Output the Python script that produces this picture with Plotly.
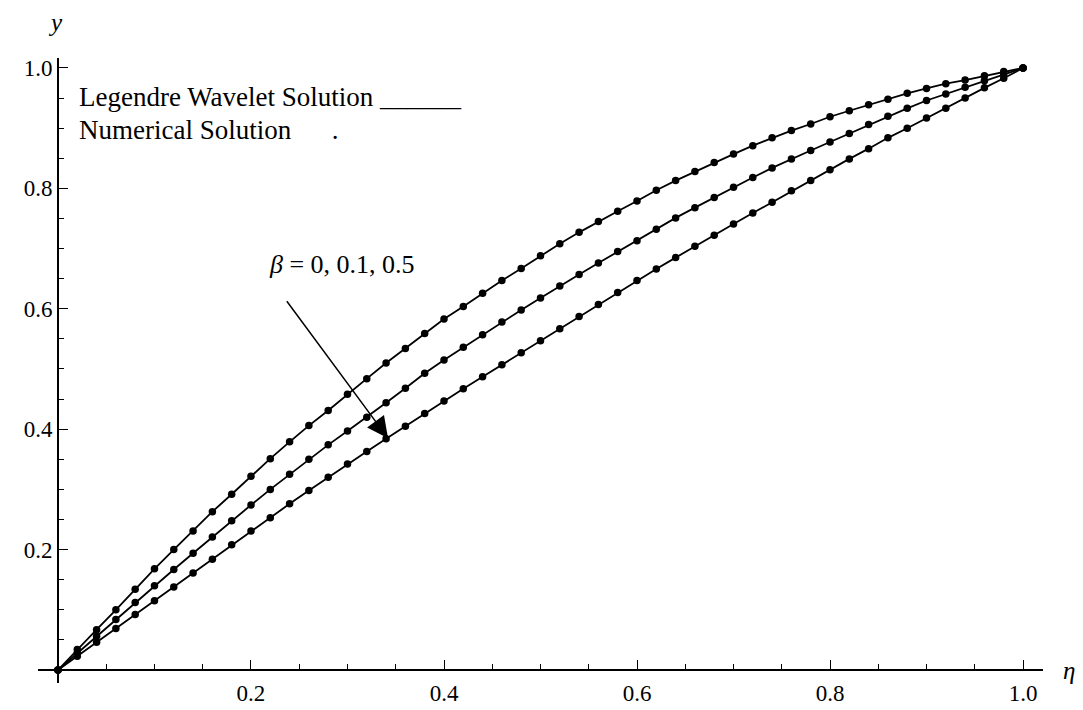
import plotly.graph_objects as go

eta = [round(0.02 * i, 2) for i in range(51)]

y_beta0 = [0.000, 0.034, 0.067, 0.100, 0.134, 0.168, 0.200, 0.231, 0.263, 0.292,
           0.322, 0.351, 0.379, 0.406, 0.431, 0.458, 0.484, 0.510, 0.534, 0.559,
           0.583, 0.604, 0.626, 0.647, 0.667, 0.688, 0.708, 0.727, 0.745, 0.762,
           0.779, 0.797, 0.813, 0.828, 0.843, 0.857, 0.871, 0.884, 0.896, 0.907,
           0.919, 0.929, 0.939, 0.948, 0.958, 0.966, 0.974, 0.980, 0.987, 0.994,
           1.000]

y_beta01 = [0.000, 0.028, 0.056, 0.084, 0.112, 0.140, 0.167, 0.194, 0.221, 0.248,
            0.274, 0.300, 0.325, 0.350, 0.374, 0.397, 0.420, 0.444, 0.468, 0.493,
            0.515, 0.536, 0.557, 0.578, 0.598, 0.618, 0.638, 0.657, 0.676, 0.695,
            0.713, 0.732, 0.751, 0.768, 0.785, 0.802, 0.818, 0.834, 0.849, 0.863,
            0.877, 0.891, 0.906, 0.920, 0.933, 0.946, 0.957, 0.968, 0.979, 0.990,
            1.000]

y_beta05 = [0.000, 0.023, 0.046, 0.069, 0.092, 0.115, 0.138, 0.161, 0.184, 0.208,
            0.231, 0.253, 0.276, 0.298, 0.320, 0.342, 0.363, 0.384, 0.405, 0.426,
            0.447, 0.467, 0.487, 0.507, 0.527, 0.547, 0.567, 0.587, 0.607, 0.627,
            0.647, 0.666, 0.685, 0.704, 0.722, 0.741, 0.759, 0.777, 0.796, 0.813,
            0.831, 0.849, 0.866, 0.884, 0.900, 0.917, 0.933, 0.950, 0.967, 0.983,
            1.000]

series = [("β = 0", y_beta0), ("β = 0.1", y_beta01), ("β = 0.5", y_beta05)]

x_tickvals = [0.2, 0.4, 0.6, 0.8, 1.0]
x_ticktext = ["0.2", "0.4", "0.6", "0.8", "1.0"]
y_tickvals = [0.2, 0.4, 0.6, 0.8, 1.0]
y_ticktext = ["0.2", "0.4", "0.6", "0.8", "1.0"]

FONT = "Liberation Serif"

fig = go.Figure()
for name, ys in series:
    fig.add_trace(go.Scatter(
        x=eta, y=ys, mode="lines+markers", name=name,
        line=dict(color="black", width=1.8),
        marker=dict(color="black", size=7.5),
        cliponaxis=False, showlegend=False, hoverinfo="skip",
    ))

xr = [-0.0207, 1.0207]
yr = [-0.0216, 1.0166]

fig.update_layout(
    width=1075, height=702,
    margin=dict(l=30, r=40, t=50, b=27),
    paper_bgcolor="white", plot_bgcolor="white",
    font=dict(family=FONT, color="black", size=23),
    xaxis=dict(
        range=xr, anchor="free", position=(0 - yr[0]) / (yr[1] - yr[0]),
        automargin=False,
        showgrid=False, zeroline=False,
        showline=True, linecolor="black", linewidth=1.6,
        ticks="inside", ticklen=9, tickwidth=1.4, tickcolor="black",
        tickmode="array", tickvals=x_tickvals, ticktext=x_ticktext,
        ticklabelstandoff=3,
        minor=dict(tickmode="linear", tick0=0, dtick=0.05, ticks="inside",
                   ticklen=5, tickwidth=1.3, tickcolor="black"),
        tickfont=dict(family=FONT, size=23, color="black"),
    ),
    yaxis=dict(
        range=yr, anchor="free", position=(0 - xr[0]) / (xr[1] - xr[0]),
        automargin=False,
        showgrid=False, zeroline=False,
        showline=True, linecolor="black", linewidth=1.6,
        ticks="inside", ticklen=9, tickwidth=1.4, tickcolor="black",
        tickmode="array", tickvals=y_tickvals, ticktext=y_ticktext,
        ticklabelstandoff=0,
        minor=dict(tickmode="linear", tick0=0, dtick=0.05, ticks="inside",
                   ticklen=5, tickwidth=1.3, tickcolor="black"),
        tickfont=dict(family=FONT, size=23, color="black"),
    ),
    annotations=[
        dict(x=0.020, y=0.952, xref="x", yref="y", xanchor="left", yanchor="middle",
             text="Legendre Wavelet Solution ______", showarrow=False,
             font=dict(family=FONT, size=27, color="black")),
        dict(x=0.020, y=0.897, xref="x", yref="y", xanchor="left", yanchor="middle",
             text="Numerical Solution\u00a0\u00a0\u00a0\u00a0\u00a0\u00a0.", showarrow=False,
             font=dict(family=FONT, size=27, color="black")),
        dict(x=0.294, y=0.673, xref="x", yref="y", xanchor="center", yanchor="middle",
             text="<i>β</i> = 0, 0.1, 0.5", showarrow=False,
             font=dict(family=FONT, size=26, color="black")),
        dict(x=0.342, y=0.385, xref="x", yref="y", ax=0.236, ay=0.615,
             axref="x", ayref="y", showarrow=True, text="",
             arrowhead=2, arrowsize=2.8, arrowwidth=1.5, arrowcolor="black"),
        dict(x=-0.003, y=1.0166, xref="x", yref="y", xanchor="center", yanchor="bottom",
             text="<i>y</i>", showarrow=False, yshift=20,
             font=dict(family=FONT, size=25, color="black")),
        dict(x=1.0207, y=0.0, xref="x", yref="y", xanchor="left", yanchor="middle",
             text="<i>η</i>", showarrow=False, xshift=18,
             font=dict(family=FONT, size=25, color="black")),
    ],
)

fig.write_html("out.html")
